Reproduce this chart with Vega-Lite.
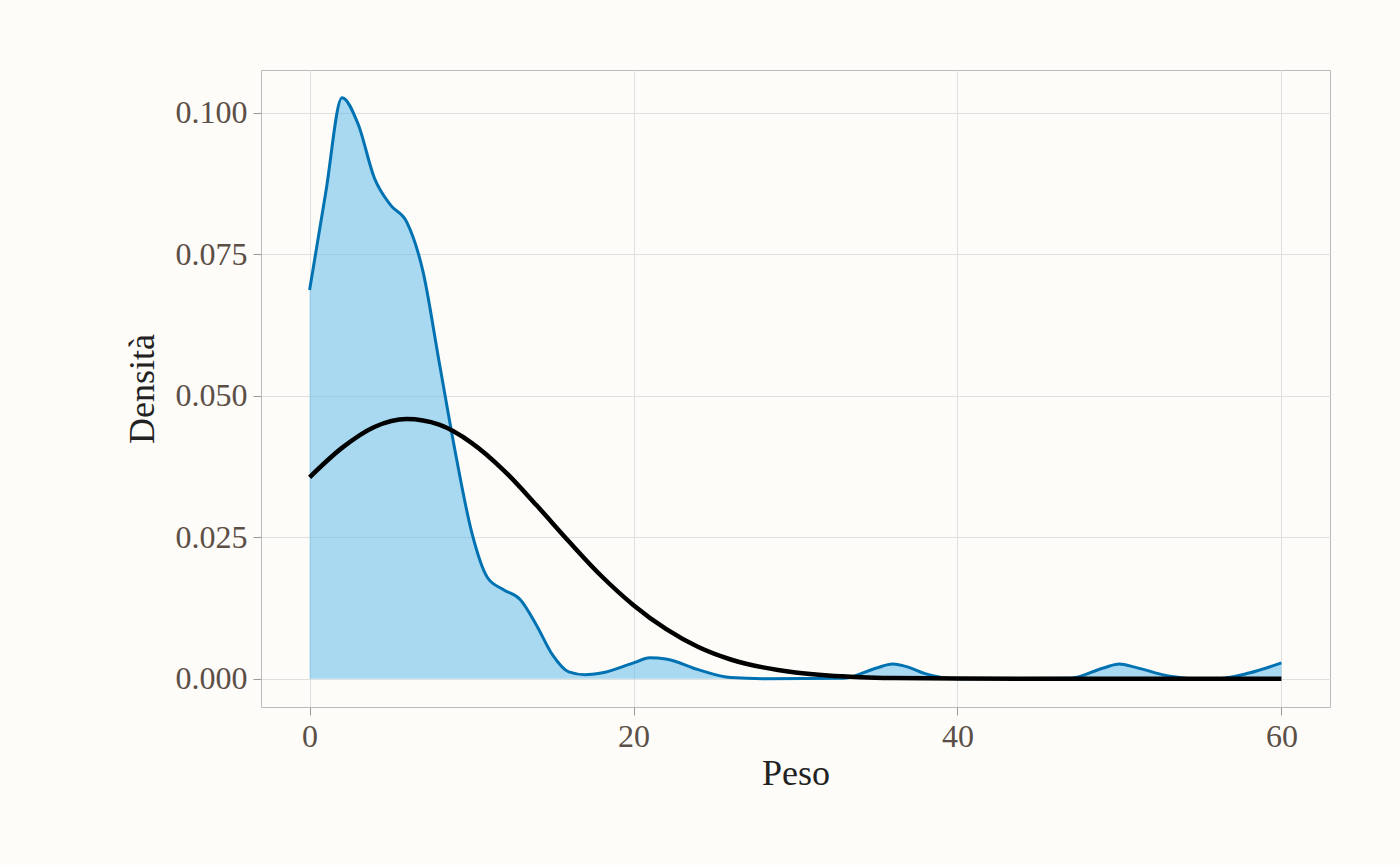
{
"$schema":"https://vega.github.io/schema/vega-lite/v6.json",
"width":1400,"height":865,
"autosize":{"type":"fit","contains":"padding"},
"padding":{"left":124,"right":70,"top":70,"bottom":74},
"background":"#FDFCF9",
"config":{"view":{"stroke":"#BBBBBB","strokeWidth":1},
"axis":{"labelFont":"Liberation Serif","titleFont":"Liberation Serif","labelFontSize":32,"titleFontSize":36,"labelColor":"#5B4F47","titleColor":"#222222","titleFontWeight":"normal","gridColor":"#E0E0E0","domain":false,"tickColor":"#999999","tickSize":8,"labelPadding":6}},
"datasets":{
"dens":[{"x":0,"y":0.0687},{"x":1,"y":0.086},{"x":2,"y":0.1027},{"x":3,"y":0.098},{"x":4,"y":0.0885},{"x":5,"y":0.0837},{"x":6,"y":0.0807},{"x":7,"y":0.072},{"x":8,"y":0.056},{"x":9,"y":0.04},{"x":10,"y":0.026},{"x":11,"y":0.0178},{"x":12,"y":0.0157},{"x":13,"y":0.014},{"x":14,"y":0.0095},{"x":15,"y":0.0042},{"x":16,"y":0.0012},{"x":17,"y":0.0007},{"x":18,"y":0.001},{"x":20,"y":0.0028},{"x":21,"y":0.0037},{"x":22,"y":0.0035},{"x":24,"y":0.0016},{"x":26,"y":0.0002},{"x":28,"y":0},{"x":33,"y":0.0001},{"x":35,"y":0.0019},{"x":36,"y":0.0026},{"x":37,"y":0.002},{"x":38,"y":0.0009},{"x":40,"y":0},{"x":47,"y":0.0001},{"x":49,"y":0.0019},{"x":50,"y":0.0026},{"x":51,"y":0.002},{"x":53,"y":0.0005},{"x":55,"y":0},{"x":56,"y":0},{"x":58,"y":0.001},{"x":60,"y":0.0028}],
"norm":[{"x":0,"y":0.0356},{"x":2,"y":0.0408},{"x":4,"y":0.0445},{"x":6,"y":0.0459},{"x":8,"y":0.0449},{"x":10,"y":0.0417},{"x":12,"y":0.0368},{"x":14,"y":0.0307},{"x":16,"y":0.0243},{"x":18,"y":0.0182},{"x":20,"y":0.013},{"x":22,"y":0.0088},{"x":24,"y":0.0056},{"x":26,"y":0.0034},{"x":28,"y":0.002},{"x":30,"y":0.0011},{"x":32,"y":0.00056},{"x":34,"y":0.00027},{"x":36,"y":0.00012},{"x":40,"y":0.00002},{"x":50,"y":0},{"x":60,"y":0}]},
"encoding":{
"x":{"field":"x","type":"quantitative","scale":{"domain":[-3,63],"nice":false,"zero":false},"axis":{"values":[0,20,40,60],"title":"Peso","gridColor":"#E0E0E0"}},
"y":{"field":"y","type":"quantitative","scale":{"domain":[-0.005,0.1076],"nice":false},"axis":{"values":[0,0.025,0.05,0.075,0.1],"format":".3f","title":"Densità","titlePadding":14}}},
"layer":[
{"data":{"name":"dens"},"mark":{"type":"area","interpolate":"monotone","color":"#56B4E9","opacity":0.5}},
{"data":{"name":"dens"},"mark":{"type":"line","interpolate":"monotone","color":"#0072B2","strokeWidth":3}},
{"data":{"name":"norm"},"mark":{"type":"line","interpolate":"monotone","color":"#000000","strokeWidth":4.5}}
]}
